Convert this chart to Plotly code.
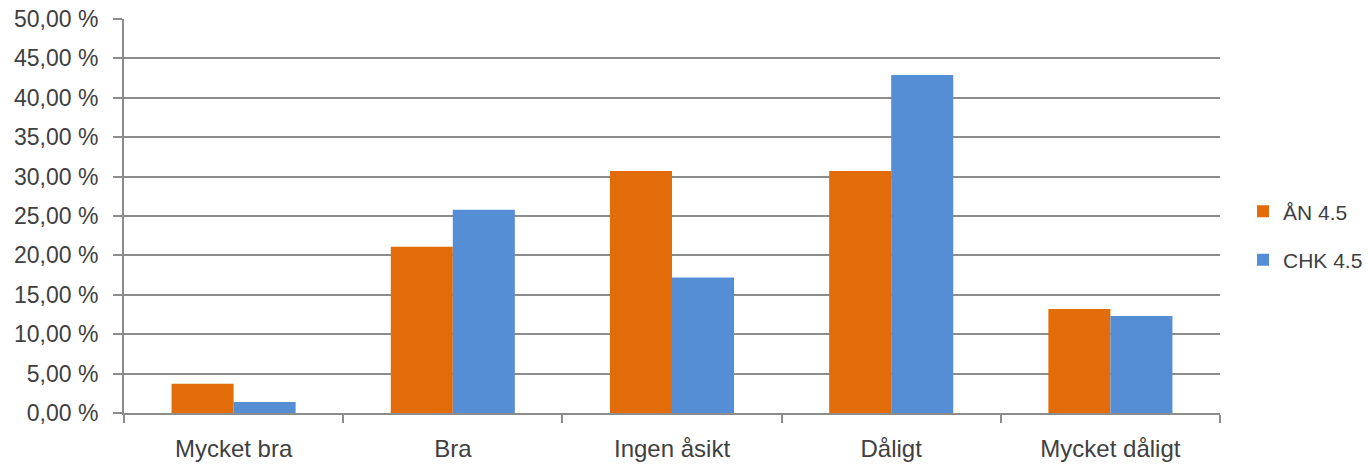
import plotly.graph_objects as go

categories = ["Mycket bra", "Bra", "Ingen åsikt", "Dåligt", "Mycket dåligt"]
series_names = ["ÅN 4.5", "CHK 4.5"]
an_values = [3.7, 21.1, 30.7, 30.7, 13.2]
chk_values = [1.4, 25.8, 17.2, 42.9, 12.3]
colors = ["#E36C0A", "#558ED5"]

fig = go.Figure()
for name, vals, col in zip(series_names, [an_values, chk_values], colors):
    fig.add_trace(go.Bar(
        x=categories, y=vals, name=name, legendgroup=name,
        marker=dict(color=col, line=dict(width=0)),
    ))

font_family = "Liberation Sans, Arial, sans-serif"
grid_col = "#8C8C8C"
txt_col = "#404040"

fig.update_layout(
    width=1370, height=464,
    margin=dict(l=124, r=150, t=19, b=51, autoexpand=False),
    paper_bgcolor="white", plot_bgcolor="white",
    barmode="group", bargap=0.434, bargroupgap=0,
    separators=", ",
    font=dict(family=font_family, size=22, color=txt_col),
    showlegend=True,
    legend=dict(x=1.021, y=0.45, xanchor="left", yanchor="middle",
                font=dict(size=21, color=txt_col),
                tracegroupgap=18, itemwidth=30),
    xaxis=dict(
        automargin=False,
        showline=True, linecolor=grid_col, linewidth=2,
        ticks="outside", ticklen=8, tickcolor=grid_col, tickwidth=2,
        tickson="boundaries", showgrid=False,
        ticklabelstandoff=13,
        tickfont=dict(size=24, color=txt_col),
    ),
    yaxis=dict(
        automargin=False,
        range=[0, 50], dtick=5, tickformat=".2f", ticksuffix=" %",
        showline=True, linecolor=grid_col, linewidth=2,
        showgrid=True, gridcolor=grid_col, gridwidth=2,
        ticks="outside", ticklen=9, tickcolor=grid_col, tickwidth=2,
        zeroline=False,
        ticklabelstandoff=10,
        tickfont=dict(size=23, color=txt_col),
    ),
)

fig.write_html("out.html", config={"displayModeBar": False},
               post_script="document.body.style.margin='0px';")
